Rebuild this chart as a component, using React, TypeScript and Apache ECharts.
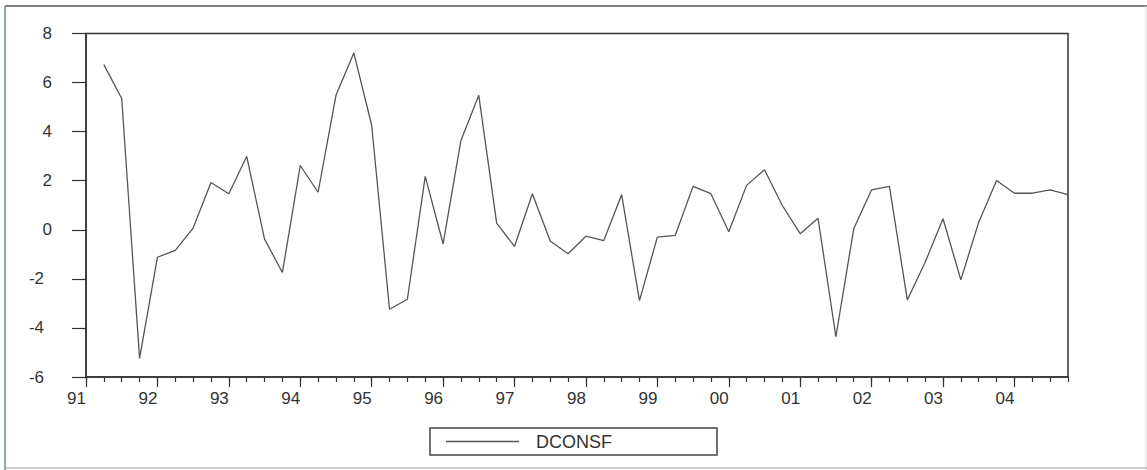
import React, { useEffect, useRef } from "react";
import * as echarts from "echarts";

const years = ["91", "92", "93", "94", "95", "96", "97", "98", "99", "00", "01", "02", "03", "04"];
const quarters = ["Q1", "Q2", "Q3", "Q4"];
const categories = years.flatMap((y) => quarters.map((q) => y + q));

const yTicks = { min: -6, max: 8, interval: 2 };

const seriesName = "DCONSF";
const dconsf = [
  null, 6.73, 5.35, -5.24, -1.12, -0.84, 0.07, 1.93, 1.47, 2.99, -0.38, -1.74, 2.62, 1.53, 5.48,
  7.21, 4.26, -3.24, -2.83, 2.18, -0.57, 3.64, 5.48, 0.27, -0.68, 1.47, -0.46, -0.98, -0.26,
  -0.44, 1.43, -2.89, -0.3, -0.23, 1.77, 1.47, -0.08, 1.81, 2.45, 0.99, -0.16, 0.47, -4.36,
  0.04, 1.63, 1.77, -2.86, -1.32, 0.45, -2.04, 0.31, 2.01, 1.49, 1.49, 1.63, 1.43,
];

const FONT = "'Liberation Sans', Arial, sans-serif";
const INK = "#333";

export default function App() {
  const ref = useRef<HTMLDivElement>(null);
  useEffect(() => {
    if (!ref.current) return;
    const chart = echarts.init(ref.current, undefined, { renderer: "svg" });
    chart.setOption({
      animation: false,
      backgroundColor: "#fff",
      grid: {
        left: 86,
        right: 79,
        top: 33.5,
        bottom: 93,
        show: true,
        borderColor: INK,
        borderWidth: 1.5,
        containLabel: false,
      },
      legend: {
        show: true,
        left: 430,
        top: 428,
        orient: "horizontal",
        padding: [4, 105, 4, 16],
        itemWidth: 73,
        itemHeight: 1.5,
        icon: "rect",
        borderColor: "#444",
        borderWidth: 1.5,
        borderRadius: 0,
        textStyle: { fontSize: 18, color: INK, fontFamily: FONT, padding: [0, 0, 0, 12], lineHeight: 19 },
        data: [seriesName],
      },
      xAxis: [
        {
          type: "category",
          data: categories,
          boundaryGap: false,
          position: "bottom",
          axisLine: { show: true, onZero: false, lineStyle: { color: INK, width: 1.5 } },
          axisTick: { show: true, interval: 0, length: 5, lineStyle: { color: INK, width: 1.2 } },
          axisLabel: { show: false },
          splitLine: { show: false },
        },
        {
          type: "category",
          data: categories,
          boundaryGap: false,
          position: "bottom",
          axisLine: { show: false, onZero: false },
          axisTick: { show: true, interval: 3, length: 10, lineStyle: { color: INK, width: 1.2 } },
          axisLabel: {
            show: true,
            interval: 3,
            align: "right",
            margin: 13,
            fontSize: 17,
            color: INK,
            fontFamily: FONT,
            formatter: (v: string) => v.slice(0, 2),
          },
          splitLine: { show: false },
        },
      ],
      yAxis: {
        type: "value",
        min: yTicks.min,
        max: yTicks.max,
        interval: yTicks.interval,
        axisLine: { show: true, lineStyle: { color: INK, width: 1.5 } },
        axisTick: { show: true, inside: false, length: 14, lineStyle: { color: INK, width: 1.2 } },
        splitLine: { show: false },
        axisLabel: {
          show: true,
          margin: 34,
          formatter: (v: number) => (v < 0 ? `{n|${v}}` : `{p|${v}}`),
          rich: {
            n: { fontSize: 17, color: INK, fontFamily: FONT, padding: [0, 8, 0, 0] },
            p: { fontSize: 17, color: INK, fontFamily: FONT },
          },
        },
      },
      series: [
        {
          name: seriesName,
          type: "line",
          xAxisIndex: 0,
          data: dconsf,
          symbol: "none",
          showSymbol: false,
          lineStyle: { color: "#555", width: 1.3 },
          itemStyle: { color: "#555" },
        },
      ],
      graphic: [
        { type: "line", shape: { x1: 5, y1: 6, x2: 1147, y2: 6 }, style: { stroke: "#555", lineWidth: 1.5 }, silent: true },
        { type: "line", shape: { x1: 5, y1: 6, x2: 5, y2: 470 }, style: { stroke: "#6f8f7a", lineWidth: 1.5 }, silent: true },
        { type: "line", shape: { x1: 1146, y1: 6, x2: 1146, y2: 470 }, style: { stroke: "#ddd", lineWidth: 1 }, silent: true },
        { type: "line", shape: { x1: 5, y1: 468, x2: 1147, y2: 468 }, style: { stroke: "#999", lineWidth: 1 }, silent: true },
      ],
    });
    return () => chart.dispose();
  }, []);
  return (
    <div
      ref={ref}
      style={{ position: "absolute", left: 0, top: 0, width: 1147, height: 470, background: "#fff" }}
    />
  );
}
